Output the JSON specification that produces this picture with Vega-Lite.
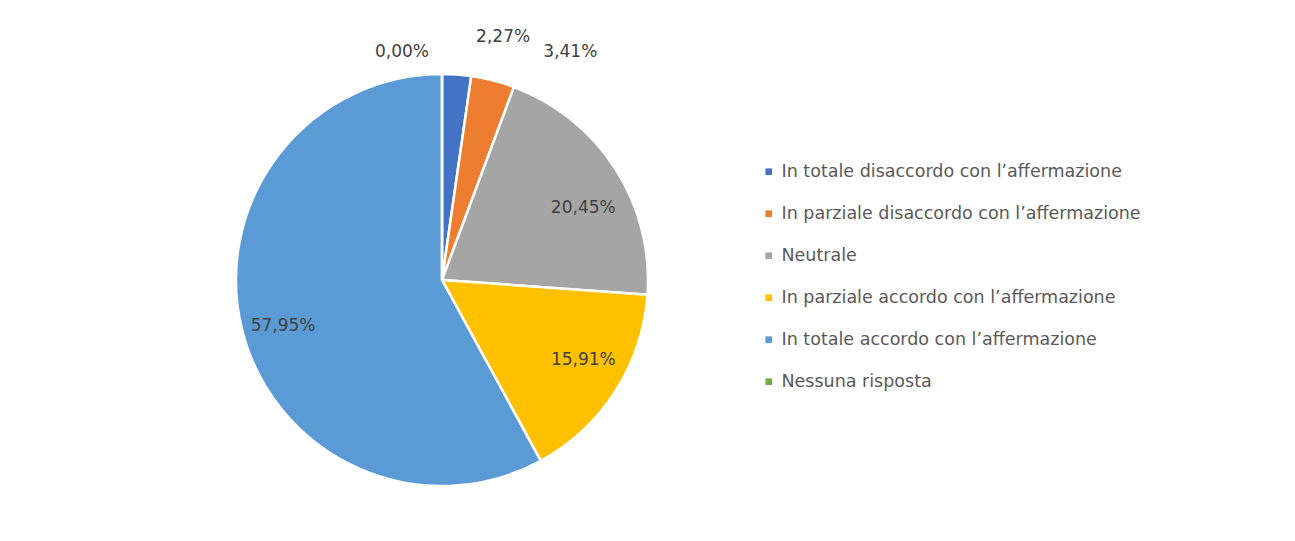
{
  "$schema": "https://vega.github.io/schema/vega-lite/v6.json",
  "width": 884,
  "height": 520,
  "padding": {"top": 20, "left": 0, "right": 0, "bottom": 0},
  "background": "white",
  "config": {
    "view": {"stroke": null},
    "locale": {"number": {"decimal": ",", "thousands": ".", "grouping": [3], "currency": ["", " €"]}},
    "font": "DejaVu Sans"
  },
  "data": {
    "values": [
      {"k": 1, "cat": "In totale disaccordo con l’affermazione", "frac": 0.0227},
      {"k": 2, "cat": "In parziale disaccordo con l’affermazione", "frac": 0.0341},
      {"k": 3, "cat": "Neutrale", "frac": 0.2045},
      {"k": 4, "cat": "In parziale accordo con l’affermazione", "frac": 0.1591},
      {"k": 5, "cat": "In totale accordo con l’affermazione", "frac": 0.5795},
      {"k": 6, "cat": "Nessuna risposta", "frac": 0.0}
    ]
  },
  "encoding": {
    "theta": {"field": "frac", "type": "quantitative", "stack": true},
    "order": {"field": "k", "type": "quantitative"}
  },
  "layer": [
    {
      "mark": {"type": "arc", "outerRadius": 206, "stroke": "white", "strokeWidth": 2.5},
      "encoding": {
        "color": {
          "field": "cat",
          "type": "nominal",
          "sort": null,
          "scale": {
            "domain": [
              "In totale disaccordo con l’affermazione",
              "In parziale disaccordo con l’affermazione",
              "Neutrale",
              "In parziale accordo con l’affermazione",
              "In totale accordo con l’affermazione",
              "Nessuna risposta"
            ],
            "range": ["#4472C4", "#ED7D31", "#A5A5A5", "#FFC000", "#5B9BD5", "#70AD47"]
          },
          "legend": {
            "title": null,
            "orient": "none",
            "legendX": 760,
            "legendY": 143,
            "symbolType": "square",
            "symbolSize": 45,
            "symbolStrokeWidth": 0,
            "labelFontSize": 17.5,
            "labelColor": "#595959",
            "labelFont": "DejaVu Sans",
            "labelOffset": 4,
            "rowPadding": 23,
            "labelLimit": 600
          }
        }
      }
    },
    {
      "mark": {"type": "text", "radius": 162, "dx": 5, "dy": 16, "fontSize": 17, "color": "#404040", "baseline": "middle"},
      "encoding": {
        "text": {"condition": {"test": "datum.k === 3", "field": "frac", "format": ".2%"}, "value": ""}
      }
    },
    {
      "mark": {"type": "text", "radius": 162, "dx": 5, "dy": -8, "fontSize": 17, "color": "#404040", "baseline": "middle"},
      "encoding": {
        "text": {"condition": {"test": "datum.k === 4", "field": "frac", "format": ".2%"}, "value": ""}
      }
    },
    {
      "mark": {"type": "text", "radius": 162, "dx": -2, "dy": 6, "fontSize": 17, "color": "#404040", "baseline": "middle"},
      "encoding": {
        "text": {"condition": {"test": "datum.k === 5", "field": "frac", "format": ".2%"}, "value": ""}
      }
    },
    {
      "mark": {"type": "text", "radius": 240, "dx": 44, "dy": -4, "fontSize": 17, "color": "#404040", "baseline": "middle"},
      "encoding": {
        "text": {"condition": {"test": "datum.k === 1", "field": "frac", "format": ".2%"}, "value": ""}
      }
    },
    {
      "mark": {"type": "text", "radius": 240, "dx": 69, "dy": 5, "fontSize": 17, "color": "#404040", "baseline": "middle"},
      "encoding": {
        "text": {"condition": {"test": "datum.k === 2", "field": "frac", "format": ".2%"}, "value": ""}
      }
    },
    {
      "mark": {"type": "text", "radius": 206, "dx": -40, "dy": -22, "fontSize": 17, "color": "#404040", "baseline": "middle"},
      "encoding": {
        "text": {"condition": {"test": "datum.k === 6", "field": "frac", "format": ".2%"}, "value": ""}
      }
    }
  ]
}
